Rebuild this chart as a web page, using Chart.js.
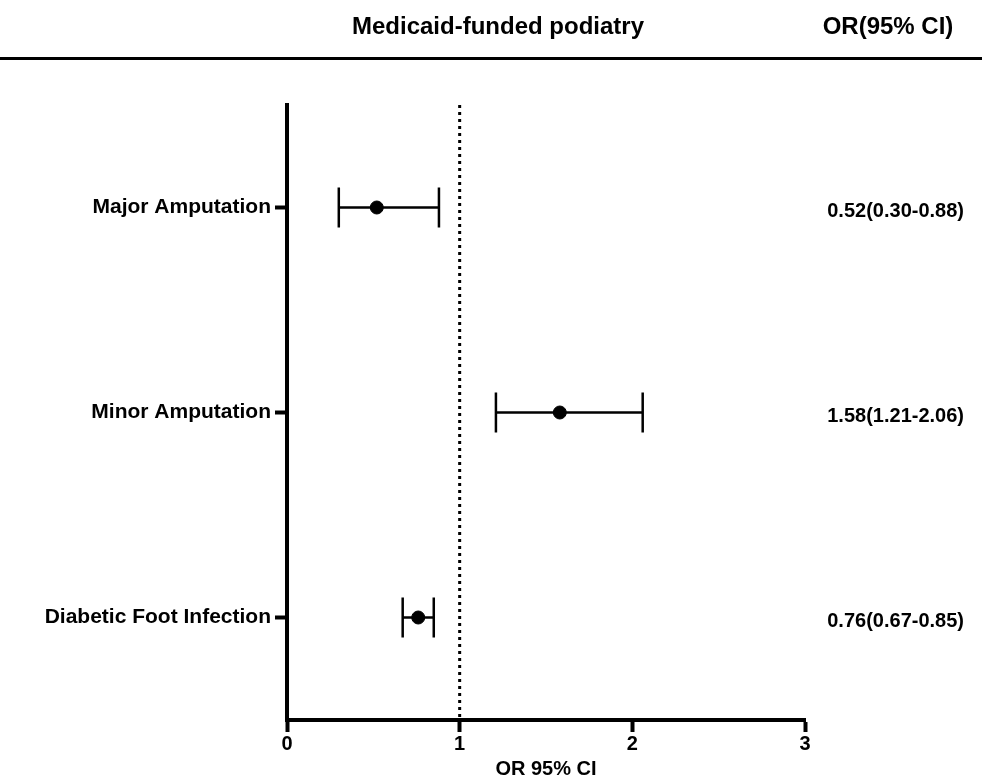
<!DOCTYPE html>
<html>
<head>
<meta charset="utf-8">
<script src="https://cdn.jsdelivr.net/npm/chart.js@4/dist/chart.umd.min.js"></script>
<style>
html,body{margin:0;padding:0;background:#fff;}
#wrap{width:982px;height:781px;position:relative;}
</style>
</head>
<body>
<div id="wrap"><canvas id="c" width="982" height="781"></canvas></div>
<script>
const categories = ["Major Amputation", "Minor Amputation", "Diabetic Foot Infection"];
const oddsRatios = [0.52, 1.58, 0.76];
const lowerCI = [0.30, 1.21, 0.67];
const upperCI = [0.88, 2.06, 0.85];
const valueLabels = ["0.52(0.30-0.88)", "1.58(1.21-2.06)", "0.76(0.67-0.85)"];
const xTicks = [0, 1, 2, 3];
const headerTitle = "Medicaid-funded podiatry";
const headerRight = "OR(95% CI)";
const xTitle = "OR 95% CI";
const refLine = 1;

const FONT = "'Liberation Sans', Arial, sans-serif";

const errorBars = {
  id: 'errorBars',
  afterDatasetsDraw(chart) {
    const ctx = chart.ctx, xs = chart.scales.x, ys = chart.scales.y;
    ctx.save();
    ctx.strokeStyle = '#000';
    ctx.lineWidth = 2.5;
    categories.forEach((c, i) => {
      const y = ys.getPixelForValue(i + 1);
      const x1 = xs.getPixelForValue(lowerCI[i]);
      const x2 = xs.getPixelForValue(upperCI[i]);
      ctx.beginPath();
      ctx.moveTo(x1, y); ctx.lineTo(x2, y);
      ctx.moveTo(x1, y - 20); ctx.lineTo(x1, y + 20);
      ctx.moveTo(x2, y - 20); ctx.lineTo(x2, y + 20);
      ctx.stroke();
    });
    ctx.restore();
  },
  afterDraw(chart) {
    const ctx = chart.ctx, ys = chart.scales.y;
    ctx.save();
    ctx.fillStyle = '#000';
    ctx.textBaseline = 'middle';
    ctx.textAlign = 'center';
    ctx.font = "bold 24px " + FONT;
    ctx.fillText(headerTitle, 498, 27);
    ctx.fillText(headerRight, 888, 27);
    ctx.fillRect(0, 57, 982, 3);
    ctx.font = "bold 20px " + FONT;
    ctx.textAlign = 'right';
    valueLabels.forEach((t, i) => {
      ctx.fillText(t, 964, ys.getPixelForValue(i + 1) + 4);
    });
    ctx.restore();
  }
};

new Chart(document.getElementById('c'), {
  type: 'scatter',
  data: {
    datasets: [
      {
        type: 'line',
        data: [{x: refLine, y: 0.5}, {x: refLine, y: 3.5}],
        borderColor: '#000',
        borderWidth: 3,
        borderDash: [3, 4],
        pointRadius: 0,
        order: 2
      },
      {
        data: oddsRatios.map((v, i) => ({x: v, y: i + 1})),
        backgroundColor: '#000',
        borderColor: '#000',
        pointRadius: 6.5,
        order: 1
      }
    ]
  },
  plugins: [errorBars],
  options: {
    responsive: false,
    animation: false,
    events: [],
    layout: {padding: {top: 105, right: 177, left: 0, bottom: 0}},
    plugins: {legend: {display: false}, tooltip: {enabled: false}},
    scales: {
      x: {
        type: 'linear',
        min: 0, max: 3,
        afterBuildTicks(s) { s.ticks = xTicks.map(v => ({value: v})); },
        afterFit(s) { s.height = 61; },
        ticks: {color: '#000', font: {family: FONT, size: 20, weight: 'bold'}, padding: 0},
        grid: {drawOnChartArea: false, drawTicks: true, tickLength: 12, tickWidth: 4, tickColor: '#000'},
        border: {display: true, width: 4, color: '#000'},
        title: {display: true, text: xTitle, color: '#000', font: {family: FONT, size: 20, weight: 'bold'}, padding: {top: 0, bottom: 0}}
      },
      y: {
        type: 'linear',
        min: 0.5, max: 3.5,
        reverse: true,
        afterBuildTicks(s) { s.ticks = categories.map((c, i) => ({value: i + 1})); },
        afterFit(s) { s.width = 287; },
        ticks: {
          color: '#000', font: {family: FONT, size: 21, weight: 'bold'}, padding: 4,
          callback(v) { return categories[Math.round(v) - 1]; }
        },
        grid: {drawOnChartArea: false, drawTicks: true, tickLength: 12, tickWidth: 4, tickColor: '#000'},
        border: {display: true, width: 4, color: '#000'}
      }
    }
  }
});
</script>
</body>
</html>
